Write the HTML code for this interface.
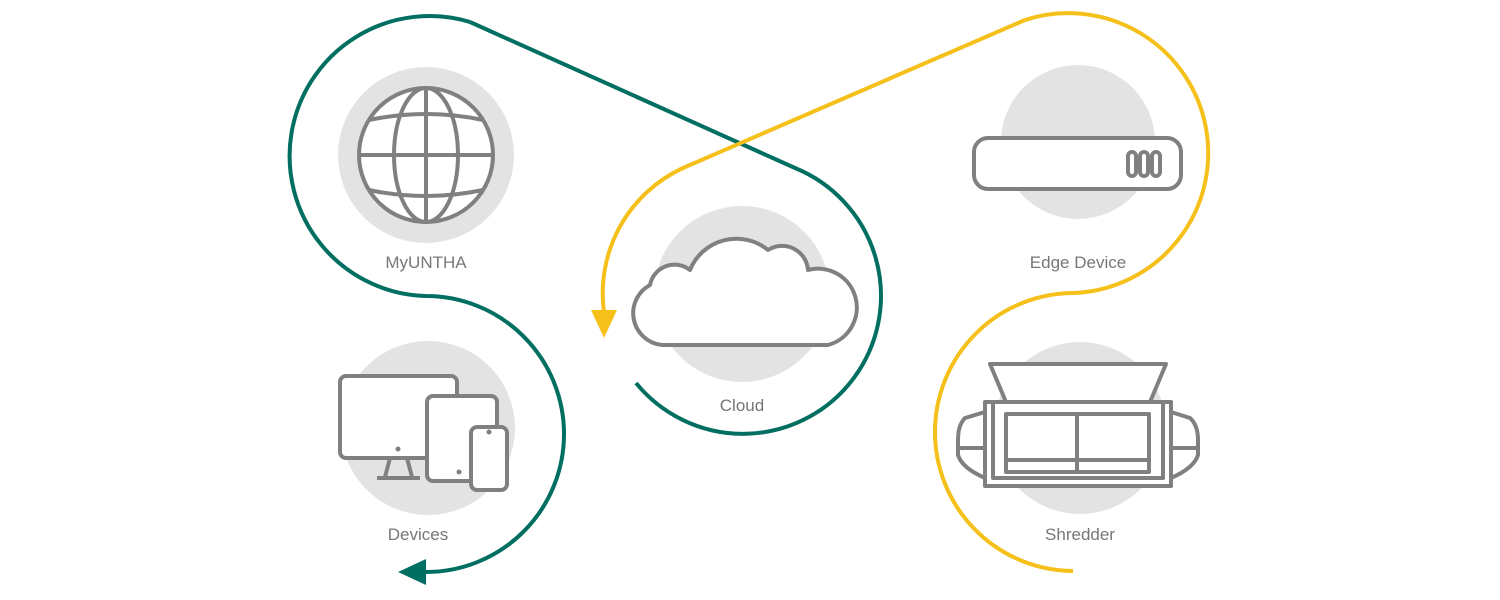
<!DOCTYPE html>
<html><head><style>
html,body{margin:0;padding:0;background:#fff;}
svg{display:block;}
text{font-family:"Liberation Sans",sans-serif;font-size:17px;fill:#777;text-anchor:middle;}
</style></head><body>
<svg width="1500" height="600" viewBox="0 0 1500 600">
<g fill="#e3e3e3">
<circle cx="426" cy="155" r="88"/>
<circle cx="1078" cy="142" r="77"/>
<circle cx="742" cy="294" r="88"/>
<circle cx="428" cy="428" r="87"/>
<circle cx="1080" cy="428" r="86"/>
</g>
<g fill="none" stroke-width="4">
<path d="M470 22 A140 140 0 1 0 426 296 A138 138 0 0 1 426 572 L412 572" stroke="#006e61"/>
<path d="M470 22 L795 168 A138 138 0 1 1 636 383" stroke="#006e61"/>
<path d="M1025 20 L683 168 A138 138 0 0 0 604 312" stroke="#f5c01a"/>
<path d="M1025 20 A140 140 0 1 1 1075 293 A139 139 0 0 0 1073 571" stroke="#f5c01a"/>
</g>
<polygon points="398,572 426,559 426,585" fill="#006e61"/>
<polygon points="591,310 617,310 604,338" fill="#f5c01a"/>
<g fill="#fff" stroke="#808080" stroke-width="4" stroke-linejoin="round">
<circle cx="426" cy="155" r="67"/>
<ellipse cx="426" cy="155" rx="32" ry="67" fill="none"/>
<line x1="426" y1="88" x2="426" y2="222"/>
<line x1="359" y1="155" x2="493" y2="155"/>
<path d="M369 120 Q426 108 483 120 M369 190 Q426 202 483 190" fill="none"/>
<rect x="974" y="138" width="207" height="51" rx="14"/>
<rect x="1128" y="152" width="8" height="24" rx="4"/>
<rect x="1140" y="152" width="8" height="24" rx="4"/>
<rect x="1152" y="152" width="8" height="24" rx="4"/>
<path d="M662 345 A32 32 0 0 1 650 285 A25 25 0 0 1 690 270 A50 50 0 0 1 768 250 A26 26 0 0 1 808 270 A38 38 0 1 1 828 345 Z"/>
<rect x="340" y="376" width="117" height="82" rx="6"/>
<path d="M390 458 L385 477 M407 458 L412 477 M377 478 L420 478" fill="none"/>
<rect x="427" y="396" width="70" height="85" rx="6"/>
<rect x="471" y="427" width="36" height="63" rx="6"/>
<path d="M990 364 L1166 364 L1150 402 L1006 402 Z"/>
<path d="M985 412 L965 418 Q958 425 958 440 L958 455 Q962 468 985 478 Z"/>
<path d="M1171 412 L1190 418 Q1198 425 1198 440 L1198 455 Q1194 468 1171 478 Z"/>
<rect x="985" y="402" width="186" height="84"/>
<rect x="993" y="402" width="170" height="76"/>
<rect x="1006" y="414" width="143" height="58"/>
<path d="M1077 414 L1077 472 M1006 460 L1149 460" fill="none"/>
<line x1="958" y1="448" x2="985" y2="448"/>
<line x1="1171" y1="448" x2="1198" y2="448"/>
</g>
<g fill="#808080">
<circle cx="398" cy="449" r="2.5"/>
<circle cx="459" cy="472" r="2.5"/>
<circle cx="489" cy="432" r="2.5"/>
</g>
<text x="426" y="268">MyUNTHA</text>
<text x="1078" y="268">Edge Device</text>
<text x="742" y="411">Cloud</text>
<text x="418" y="540">Devices</text>
<text x="1080" y="540">Shredder</text>
</svg>
</body></html>
